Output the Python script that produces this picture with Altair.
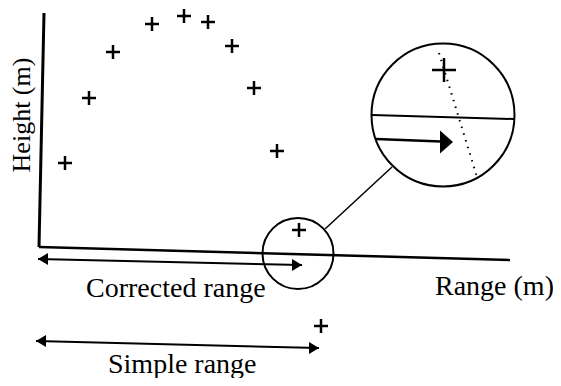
import altair as alt
import pandas as pd

# Diagram coordinates (reference image frame: x to the right, y downward)
# Measured trajectory points (plus markers)
pt_x = [65, 89, 113, 152, 184, 208, 232, 254, 277, 299, 321]
pt_y = [163, 98, 52, 24, 16, 22, 46, 88, 151, 230, 326]

# Magnified point inside the big circle
big_pt_x = [444]
big_pt_y = [70]

# Line segments: axes, range arrows, connector, magnified ground line, magnified arrow
seg_x1 = [44, 39, 38, 36, 325, 372, 376]
seg_y1 = [13, 247, 259, 341, 229, 115, 139]
seg_x2 = [39, 510, 302, 319, 392, 514, 441]
seg_y2 = [247, 260, 265, 348, 167, 119, 141.5]
seg_w = [3, 2.5, 2, 2, 1.5, 2, 2.5]

# Dotted trajectory continuation in the magnified view
dot_x1 = [439]
dot_y1 = [53]
dot_x2 = [477]
dot_y2 = [177]

# Circles (small = region, big = magnified view)
circ_x = [298, 443]
circ_y = [253.5, 115]
circ_d = [71, 143]

# Arrowheads (tip positions and direction)
head_x = [38, 302, 36, 319, 453]
head_y = [259, 265, 341, 348, 142]
head_kind = ["left", "right", "left", "right", "bigright"]

# Labels
lab_text = ["Corrected range", "Range (m)", "Simple range"]
lab_x = [86, 435, 108]
lab_y = [297, 295, 373]

ylab_text = ["Height (m)"]
ylab_x = [30]
ylab_y = [115]

shapes = {
    "left": "M0,0L10,-6L10,6Z",
    "right": "M0,0L-10,-6L-10,6Z",
    "bigright": "M0,0L-13,-11.5L-13,11.5Z",
}

W, H = 545, 370
xs = alt.Scale(domain=[8, 553], nice=False, zero=False)
ys = alt.Scale(domain=[8, 378], nice=False, zero=False, reverse=True)

seg_df = pd.DataFrame({"x": seg_x1, "y": seg_y1, "x2": seg_x2, "y2": seg_y2, "w": seg_w})
dot_df = pd.DataFrame({"x": dot_x1, "y": dot_y1, "x2": dot_x2, "y2": dot_y2})
pt_df = pd.DataFrame({"x": pt_x, "y": pt_y})
big_df = pd.DataFrame({"x": big_pt_x, "y": big_pt_y})
circ_df = pd.DataFrame({"x": circ_x, "y": circ_y, "s": [d * d for d in circ_d]})
head_df = pd.DataFrame({"x": head_x, "y": head_y, "shape": [shapes[k] for k in head_kind]})
lab_df = pd.DataFrame({"t": lab_text, "x": lab_x, "y": lab_y})
ylab_df = pd.DataFrame({"t": ylab_text, "x": ylab_x, "y": ylab_y})

X = lambda f="x": alt.X(f"{f}:Q", scale=xs, axis=None)
Y = lambda f="y": alt.Y(f"{f}:Q", scale=ys, axis=None)

segs = alt.Chart(seg_df).mark_rule(color="black", strokeCap="butt").encode(
    x=X(), y=Y(), x2="x2:Q", y2="y2:Q",
    strokeWidth=alt.StrokeWidth("w:Q", scale=None, legend=None),
)

dots = alt.Chart(dot_df).mark_rule(color="black", strokeWidth=2, strokeDash=[1.5, 5.5]).encode(
    x=X(), y=Y(), x2="x2:Q", y2="y2:Q"
)

plus_path = "M-1,0L1,0M0,-1L0,1"
pts = alt.Chart(pt_df).mark_point(
    shape=plus_path, filled=False, color="black", strokeWidth=2.5, size=196, opacity=1
).encode(x=X(), y=Y())

bigpt = alt.Chart(big_df).mark_point(
    shape=plus_path, filled=False, color="black", strokeWidth=2.5, size=576, opacity=1
).encode(x=X(), y=Y())

circs = alt.Chart(circ_df).mark_point(
    shape="circle", filled=False, color="black", strokeWidth=2, opacity=1
).encode(x=X(), y=Y(), size=alt.Size("s:Q", scale=None, legend=None))

heads = alt.Chart(head_df).mark_point(
    filled=True, color="black", size=4, opacity=1, strokeWidth=0
).encode(x=X(), y=Y(), shape=alt.Shape("shape:N", scale=None, legend=None))

labs = alt.Chart(lab_df).mark_text(
    font="Liberation Serif", fontSize=28, align="left", baseline="alphabetic", color="black"
).encode(x=X(), y=Y(), text="t:N")

ylab = alt.Chart(ylab_df).mark_text(
    font="Liberation Serif", fontSize=26, align="center", baseline="alphabetic",
    angle=270, color="black"
).encode(x=X(), y=Y(), text="t:N")

chart = alt.layer(segs, dots, circs, pts, bigpt, heads, labs, ylab).properties(
    width=W, height=H, padding=0, autosize=alt.AutoSizeParams(type="none"),
    background="white",
).configure_view(stroke=None)

chart.save("out.html", embed_options={"renderer": "svg", "actions": False})
